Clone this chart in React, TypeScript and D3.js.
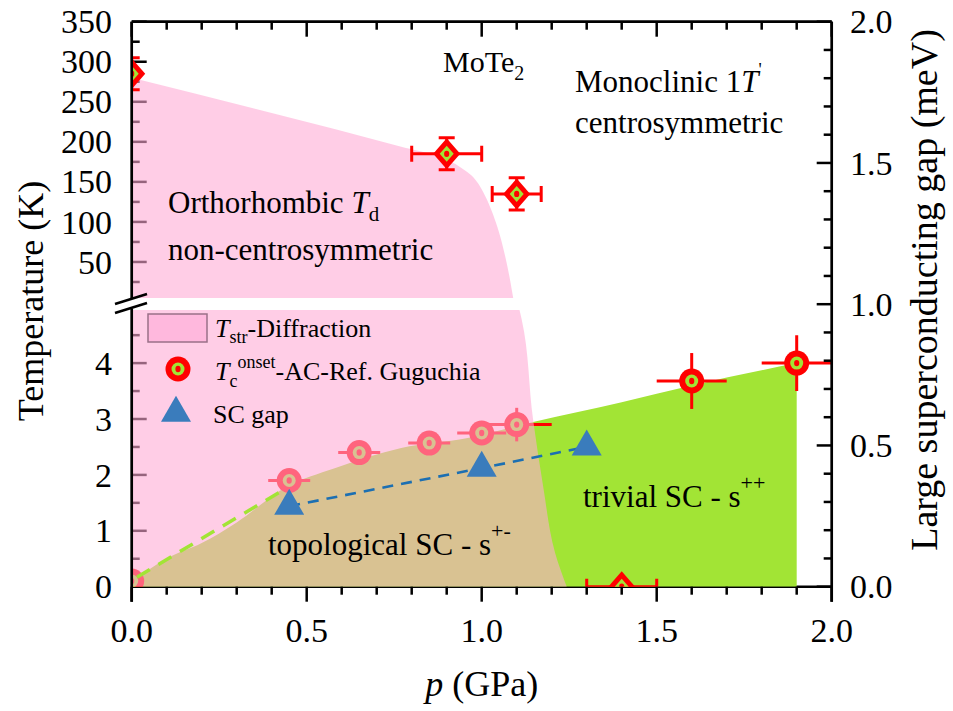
import React from "react";
import * as d3 from "d3";

// ---------- data ----------
const xMajorTicks = [0, 0.5, 1.0, 1.5, 2.0];
const xTickLabels = ["0.0", "0.5", "1.0", "1.5", "2.0"];
const upperTicks = [50, 100, 150, 200, 250, 300, 350];
const lowerTicks = [0, 1, 2, 3, 4];
const rightTicks = [0, 0.5, 1.0, 1.5, 2.0];
const rightTickLabels = ["0.0", "0.5", "1.0", "1.5", "2.0"];

// structural transition boundary (pink), upper panel (K)
const strUpperP = [0, 0.4, 0.77, 0.88, 0.94, 0.99, 1.03, 1.06, 1.08, 1.09];
const strUpperT = [280, 236, 194, 181, 168, 148, 112, 70, 30, 5];
// structural boundary in lower panel
const strLowerT = [4.95, 4.79, 2.98, 1.78, 0.6, 0];
const strLowerP = [1.108, 1.114, 1.147, 1.176, 1.21, 1.243];

// superconducting dome (green)
const scAreaP = [0, 0.03, 0.1, 0.2, 0.3, 0.44, 0.58, 0.77, 0.96, 1.15, 1.4, 1.6, 1.9];
const scAreaT = [0, 0.2, 0.5, 0.78, 1.15, 1.78, 2.12, 2.48, 2.66, 2.95, 3.3, 3.6, 4.0];

// T_str diffraction points (diamonds)
const tstrP = [0, 0.9, 1.1, 1.4];
const tstrT = [285, 185, 135, 0];
const tstrPErr = [0, 0.1, 0.07, 0.1];
const tstrTErr = [20, 20, 20, 0];
const tstrPanel = ["upper", "upper", "upper", "lower"];

// Tc onset AC (circles)
const tcP = [0, 0.45, 0.65, 0.85, 1.0, 1.1, 1.6, 1.9];
const tcT = [0.1, 1.9, 2.4, 2.57, 2.75, 2.9, 3.68, 4.0];
const tcPErr = [0, 0.06, 0.06, 0.06, 0.07, 0.1, 0.1, 0.1];
const tcTErr = [0, 0, 0, 0, 0, 0.3, 0.5, 0.5];

// SC gap (triangles, right axis, meV)
const gapP = [0.45, 1.0, 1.3];
const gapV = [0.285, 0.42, 0.495];

// green guide line
const guideP = [0.015, 0.425];
const guideT = [0.17, 1.7];

const FONT = "'Liberation Serif', 'Times New Roman', Times, serif";
const PINK = "#ffaad5";
const PINK_OP = 0.59;
const GREEN = "#a2e435";
const RED = "#ff0000";

export default function App() {
  const x = d3.scaleLinear().domain([0, 2]).range([131.7, 831.7]);
  const yU = d3.scaleLinear().domain([5, 350]).range([298, 21.7]);
  const yL = d3.scaleLinear().domain([0, 4.95]).range([586.7, 310]);
  const yR = d3.scaleLinear().domain([0, 2]).range([586.7, 21.7]);

  const left = x(0), right = x(2), top = yR(2), bottom = yR(0);

  const upperArea = d3
    .area<number>()
    .x((_, i) => x(strUpperP[i]))
    .y0(yU(5))
    .y1((_, i) => yU(strUpperT[i]))
    .curve(d3.curveMonotoneX)(strUpperP) as string;

  const lowerArea = d3
    .area<number>()
    .y((_, i) => yL(strLowerT[i]))
    .x0(x(0))
    .x1((_, i) => x(strLowerP[i]))
    .curve(d3.curveMonotoneY)(strLowerT) as string;

  const greenArea = d3
    .area<number>()
    .x((_, i) => x(scAreaP[i]))
    .y0(yL(0))
    .y1((_, i) => yL(scAreaT[i]))
    .curve(d3.curveMonotoneX)(scAreaP) as string;

  const guideLine = d3
    .line<number>()
    .x((_, i) => x(guideP[i]))
    .y((_, i) => yL(guideT[i]))(guideP) as string;

  const gapLine = d3
    .line<number>()
    .x((_, i) => x(gapP[i]))
    .y((_, i) => yR(gapV[i]))(gapP) as string;

  const triPath = d3.symbol().type(d3.symbolTriangle).size(390)() as string;

  const xMinor = d3.range(0, 20.01, 1).map((v) => v / 10);
  const isMajX = (v: number) => Math.abs(v * 2 - Math.round(v * 2)) < 1e-6;
  const upperMinor = d3.range(25, 351, 25);
  const lowerMinor = d3.range(0, 4.51, 0.5);
  const rightMinor = d3.range(0, 20.01, 1).map((v) => v / 10);

  const circleMarker = (cx: number, cy: number, key: string) => (
    <g key={key}>
      <circle cx={cx} cy={cy} r={12.5} fill={RED} />
      <circle cx={cx} cy={cy} r={6.5} fill={GREEN} />
      <ellipse cx={cx} cy={cy} rx={2.6} ry={3.2} fill={RED} />
    </g>
  );

  const diamond = (cx: number, cy: number, w: number, h: number) =>
    `M${cx},${cy - h}L${cx + w},${cy}L${cx},${cy + h}L${cx - w},${cy}Z`;

  return (
    <svg
      width={953}
      height={711}
      style={{ position: "absolute", left: 0, top: 0, background: "#fff" }}
      fontFamily={FONT}
    >
      <defs>
        <clipPath id="plot">
          <rect x={left} y={top} width={right - left} height={bottom - top} />
        </clipPath>
      </defs>

      {/* left ticks (drawn under pink overlay) */}
      <g stroke="#000" strokeWidth={2.5}>
        {upperMinor.map((v) => (
          <line key={"um" + v} x1={left} x2={left + (v % 50 === 0 ? 15 : 8)} y1={yU(v)} y2={yU(v)} />
        ))}
        {lowerMinor.map((v) => (
          <line key={"lm" + v} x1={left} x2={left + (v % 1 === 0 ? 15 : 8)} y1={yL(v)} y2={yL(v)} />
        ))}
      </g>

      {/* bottom axis line under fills */}
      <line x1={left} x2={right} y1={bottom} y2={bottom} stroke="#000" strokeWidth={2.5} />

      <g clipPath="url(#plot)">
        {/* green dome */}
        <path d={greenArea} fill={GREEN} />

        {/* Tc circles with error bars (under pink) */}
        <g stroke={RED} strokeWidth={3}>
          {tcP.map((p, i) => (
            <g key={"te" + i}>
              {tcPErr[i] > 0 && (
                <line x1={x(p - tcPErr[i])} x2={x(p + tcPErr[i])} y1={yL(tcT[i])} y2={yL(tcT[i])} />
              )}
              {tcTErr[i] > 0 && (
                <line x1={x(p)} x2={x(p)} y1={yL(tcT[i] - tcTErr[i])} y2={yL(tcT[i] + tcTErr[i])} />
              )}
            </g>
          ))}
        </g>
        {tcP.map((p, i) => circleMarker(x(p), yL(tcT[i]), "tc" + i))}

        {/* pink structural region */}
        <path d={upperArea} fill={PINK} fillOpacity={PINK_OP} />
        <path d={lowerArea} fill={PINK} fillOpacity={PINK_OP} />

        {/* green guide dashed line */}
        <path d={guideLine} fill="none" stroke={GREEN} strokeWidth={3.5} strokeDasharray="15 10" />

        {/* SC gap dashed line and triangles */}
        <path d={gapLine} fill="none" stroke="#1c6fb2" strokeWidth={2.6} strokeDasharray="11 8" />
        {gapP.map((p, i) => (
          <path key={"g" + i} d={triPath} transform={`translate(${x(p)},${yR(gapV[i])})`} fill="#3a7cbc" />
        ))}

        {/* T_str diamonds with error bars */}
        {tstrP.map((p, i) => {
          const ys = tstrPanel[i] === "upper" ? yU : yL;
          const cx = x(p);
          const cy = ys(tstrT[i]);
          return (
            <g key={"d" + i}>
              <g stroke={RED} strokeWidth={3}>
                {tstrPErr[i] > 0 && (
                  <>
                    <line x1={x(p - tstrPErr[i])} x2={x(p + tstrPErr[i])} y1={cy} y2={cy} />
                    <line x1={x(p - tstrPErr[i])} x2={x(p - tstrPErr[i])} y1={cy - 8} y2={cy + 8} />
                    <line x1={x(p + tstrPErr[i])} x2={x(p + tstrPErr[i])} y1={cy - 8} y2={cy + 8} />
                  </>
                )}
                {tstrTErr[i] > 0 && (
                  <>
                    <line x1={cx} x2={cx} y1={ys(tstrT[i] - tstrTErr[i])} y2={ys(tstrT[i] + tstrTErr[i])} />
                    <line x1={cx - 8} x2={cx + 8} y1={ys(tstrT[i] - tstrTErr[i])} y2={ys(tstrT[i] - tstrTErr[i])} />
                    <line x1={cx - 8} x2={cx + 8} y1={ys(tstrT[i] + tstrTErr[i])} y2={ys(tstrT[i] + tstrTErr[i])} />
                  </>
                )}
              </g>
              <path d={diamond(cx, cy, 13.5, 15.5)} fill={RED} />
              <path d={diamond(cx, cy, 7, 8)} fill={GREEN} />
              <ellipse cx={cx} cy={cy} rx={2.6} ry={3.2} fill={RED} />
            </g>
          );
        })}
      </g>

      {/* axes lines */}
      <g stroke="#000" strokeWidth={2.7} fill="none">
        <line x1={left} x2={right} y1={top} y2={top} />
        <line x1={right} x2={right} y1={top} y2={bottom + 15} />
        <line x1={left} x2={left} y1={top} y2={299} />
        <line x1={left} x2={left} y1={308.5} y2={bottom + 15} />
        <line x1={115} y1={304} x2={147} y2={294} strokeWidth={2.5} />
        <line x1={115} y1={313} x2={147} y2={303} strokeWidth={2.5} />
      </g>

      {/* x ticks: top inward, bottom outward; right inward */}
      <g stroke="#000" strokeWidth={2.5}>
        {xMinor.map((v) => {
          const len = isMajX(v) ? 15 : 8;
          return (
            <g key={"xt" + v}>
              <line x1={x(v)} x2={x(v)} y1={top} y2={top + len} />
              <line x1={x(v)} x2={x(v)} y1={bottom} y2={bottom + len} />
            </g>
          );
        })}
        {rightMinor.map((v) => {
          const len = isMajX(v) ? 15 : 8;
          return <line key={"rt" + v} x1={right} x2={right - len} y1={yR(v)} y2={yR(v)} />;
        })}
      </g>

      {/* tick labels */}
      <g fontSize={34} fill="#000">
        {xMajorTicks.map((v, i) => (
          <text key={"xl" + i} x={x(v)} y={642} textAnchor="middle">
            {xTickLabels[i]}
          </text>
        ))}
        {upperTicks.map((v) => (
          <text key={"ul" + v} x={112} y={yU(v) + 11.6} textAnchor="end">
            {v}
          </text>
        ))}
        {lowerTicks.map((v) => (
          <text key={"ll" + v} x={112} y={yL(v) + 11.6} textAnchor="end">
            {v}
          </text>
        ))}
        {rightTicks.map((v, i) => (
          <text key={"rl" + i} x={850} y={yR(v) + 11.6} textAnchor="start">
            {rightTickLabels[i]}
          </text>
        ))}
      </g>

      {/* axis titles */}
      <text fontSize={36} textAnchor="middle" transform="translate(43,301) rotate(-90)">
        Temperature (K)
      </text>
      <text fontSize={38} textAnchor="middle" transform="translate(937,290) rotate(-90)">
        Large superconducting gap (meV)
      </text>
      <text fontSize={36} textAnchor="middle" x={481.7} y={696}>
        <tspan fontStyle="italic">p</tspan> (GPa)
      </text>

      {/* annotations */}
      <text fontSize={30} x={443} y={72}>
        MoTe<tspan fontSize={20} dy={8}>2</tspan>
      </text>
      <text fontSize={31} x={575} y={92}>
        Monoclinic 1<tspan fontStyle="italic">T</tspan>
        <tspan fontSize={18} dy={-16}>'</tspan>
      </text>
      <text fontSize={31} x={575} y={133}>
        centrosymmetric
      </text>
      <text fontSize={31} x={168} y={213}>
        Orthorhombic <tspan fontStyle="italic">T</tspan>
        <tspan fontSize={21} dy={8}>d</tspan>
      </text>
      <text fontSize={31} x={168} y={260}>
        non-centrosymmetric
      </text>
      <text fontSize={31} x={268} y={555}>
        topological SC - s<tspan fontSize={22} dy={-17}>+-</tspan>
      </text>
      <text fontSize={31} x={583} y={507}>
        trivial SC - s<tspan fontSize={22} dy={-17}>++</tspan>
      </text>

      {/* legend */}
      <rect x={148} y={314} width={59} height={28} fill="#ffb8dd" stroke="#9a7088" strokeWidth={1.5} />
      <text fontSize={26} x={215} y={337}>
        <tspan fontStyle="italic">T</tspan>
        <tspan fontSize={18} dy={6}>str</tspan>
        <tspan dy={-6}>-Diffraction</tspan>
      </text>
      {circleMarker(178, 369, "legc")}
      <text fontSize={26} x={215} y={380}>
        <tspan fontStyle="italic">T</tspan>
        <tspan fontSize={18} dy={7}>c</tspan>
        <tspan fontSize={18} dy={-19}>onset</tspan>
        <tspan dy={12}>-AC-Ref. Guguchia</tspan>
      </text>
      <path d={triPath} transform="translate(176,413)" fill="#3a7cbc" />
      <text fontSize={26} x={213} y={423}>
        SC gap
      </text>
    </svg>
  );
}
